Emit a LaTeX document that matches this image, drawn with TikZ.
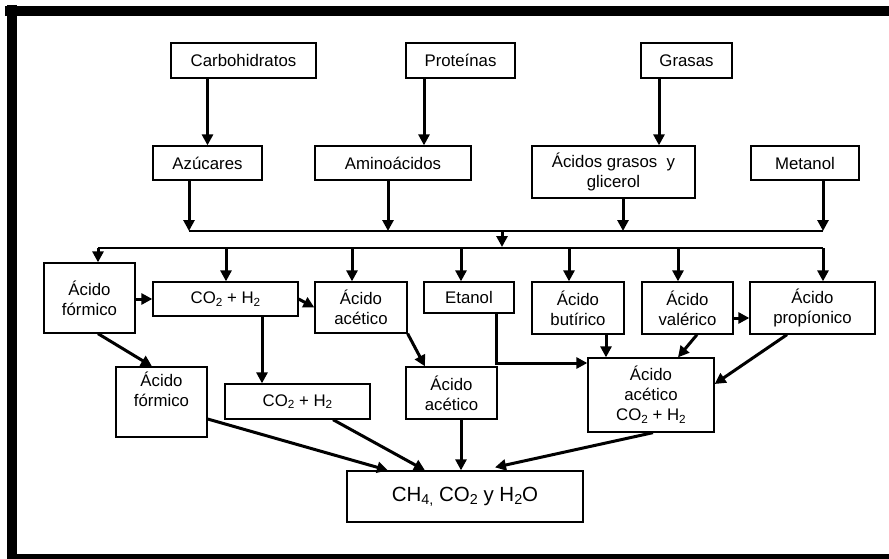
\documentclass[tikz,border=0pt]{standalone}
\usepackage{fontspec}
\setmainfont{Liberation Sans}
\usetikzlibrary{arrows.meta,calc}
\newcommand{\sbs}[1]{\raisebox{-0.3ex}{\scalebox{0.7}{#1}}}
\begin{document}
\begin{tikzpicture}[x=1pt,y=-1pt,
  box/.style={draw,line width=1.3pt,align=center,inner sep=0pt,font=\fontsize{16.8}{20}\selectfont},
  arr/.style={line width=3pt,-{Triangle[length=11pt,width=11pt]}},
  bus/.style={line width=1.8pt}]
\useasboundingbox (0,0) rectangle (889,559);
\fill[white] (0,0) rectangle (889,559);
% frame
\fill[black] (7,5) rectangle (17,559);
\fill[black] (5,6) rectangle (889,16);
\fill[black] (7,554) rectangle (889,559);

% nodes
\node[box,minimum width=145pt,minimum height=35pt] (carb) at (243.5,60.5) {Carbohidratos};
\node[box,minimum width=109pt,minimum height=35pt] (prot) at (460.5,60.5) {Proteínas};
\node[box,minimum width=91pt,minimum height=35pt] (gras) at (686.5,60.5) {Grasas};
\node[box,minimum width=109pt,minimum height=34pt] (azu) at (207.5,163) {Azúcares};
\node[box,minimum width=156pt,minimum height=34pt] (amino) at (393,163) {Aminoácidos};
\node[box,minimum width=163pt,minimum height=52pt] (grasos) at (613.5,172) {Ácidos grasos~~y\\glicerol};
\node[box,minimum width=108pt,minimum height=34pt] (meta) at (805,163) {Metanol};
\node[box,minimum width=91pt,minimum height=70pt] (form1) at (89.5,298) {Ácido\\fórmico};
\node[box,minimum width=145pt,minimum height=34pt] (co21) at (225.5,299) {CO\sbs{2} + H\sbs{2}};
\node[box,minimum width=92pt,minimum height=51pt] (acet1) at (361,307.5) {Ácido\\acético};
\node[box,minimum width=90pt,minimum height=31pt] (etan) at (469,297.5) {Etanol};
\node[box,minimum width=92pt,minimum height=52pt] (but) at (578,308) {Ácido\\butírico};
\node[box,minimum width=91pt,minimum height=52pt] (val) at (687.5,308) {Ácido\\valérico};
\node[box,minimum width=125pt,minimum height=52pt] (prop) at (812.5,308) {Ácido\\propíonico};
\node[box,minimum width=91pt,minimum height=70pt] (form2) at (161.5,402) {Ácido\\fórmico\\[6pt]};
\node[box,minimum width=145pt,minimum height=35pt] (co22) at (297.5,401.5) {CO\sbs{2} + H\sbs{2}};
\node[box,minimum width=91pt,minimum height=52pt] (acet2) at (451.5,393) {Ácido\\acético};
\node[box,minimum width=126pt,minimum height=74pt] (acet3) at (651,395) {Ácido\\acético\\CO\sbs{2} + H\sbs{2}};
\node[box,minimum width=236pt,minimum height=51pt,font=\fontsize{20.5}{24}\selectfont] (final) at (465,496.5) {CH\sbs{4,} CO\sbs{2} y H\sbs{2}O};

% top arrows
\draw[arr] ($(carb.south)+(-36,0)$) -- (azu.north);
\draw[arr] ($(prot.south)+(-36.5,0)$) -- ($(amino.north)+(31,0)$);
\draw[arr] ($(gras.south)+(-27.5,0)$) -- ($(grasos.north)+(45.5,0)$);

% bus 1
\coordinate (b1l) at (189,231);
\coordinate (b1r) at (823,231);
\draw[bus] (b1l) -- (b1r);
\coordinate (s1) at ($(azu.south)+(-18.5,0)$);
\coordinate (s2) at ($(amino.south)+(-5,0)$);
\coordinate (s3) at ($(grasos.south)+(9.5,0)$);
\coordinate (s4) at ($(meta.south)+(18,0)$);
\draw[arr] (s1) -- (s1 |- b1l);
\draw[arr] (s2) -- (s2 |- b1l);
\draw[arr] (s3) -- (s3 |- b1l);
\draw[arr] (s4) -- (s4 |- b1l);

% bus 2
\coordinate (b2l) at (98,248);
\coordinate (b2r) at (823,248);
\draw[bus] (b2l) -- (b2r);
\coordinate (m1) at (502,231);
\draw[arr] (m1) -- ($(m1 |- b2l)+(0,-1)$);
\coordinate (d1) at (98,248);
\coordinate (d2) at (226,248);
\coordinate (d3) at (352,248);
\coordinate (d4) at (461,248);
\coordinate (d5) at (569,248);
\coordinate (d6) at (678,248);
\coordinate (d7) at (823,248);
\draw[arr] (d1) -- (d1 |- form1.north);
\draw[arr] (d2) -- (d2 |- co21.north);
\draw[arr] (d3) -- (d3 |- acet1.north);
\draw[arr] (d4) -- (d4 |- etan.north);
\draw[arr] (d5) -- (d5 |- but.north);
\draw[arr] (d6) -- (d6 |- val.north);
\draw[arr] (d7) -- (d7 |- prop.north);

% middle arrows
\draw[arr] (form1.east |- co21.west) -- (co21.west);
\draw[arr] (co21.east) -- (acet1.west);
\coordinate (c1) at ($(co21.south)+(36.5,0)$);
\draw[arr] (c1) -- (c1 |- co22.north);
\draw[arr] ($(form1.south)+(8.5,0)$) -- ($(form2.north)+(-9.5,0)$);
\draw[arr] (acet1.south east) -- ($(acet2.north)+(-26.5,0)$);
\draw[arr] ($(etan.south)+(27,0)$) |- ($(acet3.west)+(0,-32)$);
\coordinate (bb) at ($(but.south)+(28,0)$);
\draw[arr] (bb) -- (bb |- acet3.north);
\draw[arr] ($(val.south)+(9.5,0)$) -- ($(acet3.north)+(27,0)$);
\draw[arr] ($(val.east)+(0,10)$) -- ($(prop.west)+(0,10)$);
\draw[arr] ($(prop.south)+(-25.5,0)$) -- ($(acet3.east)+(0,-11)$);

% to final
\draw[arr] ($(form2.east)+(0,17)$) -- ($(final.north)+(-77,0)$);
\draw[arr] ($(co22.south)+(35.5,0)$) -- ($(final.north)+(-40,0)$);
\coordinate (a2) at ($(acet2.south)+(9.5,0)$);
\draw[arr] (a2) -- (a2 |- final.north);
\draw[arr] ($(acet3.south)+(2,0)$) -- ($(final.north)+(30,-3)$);
\end{tikzpicture}
\end{document}
